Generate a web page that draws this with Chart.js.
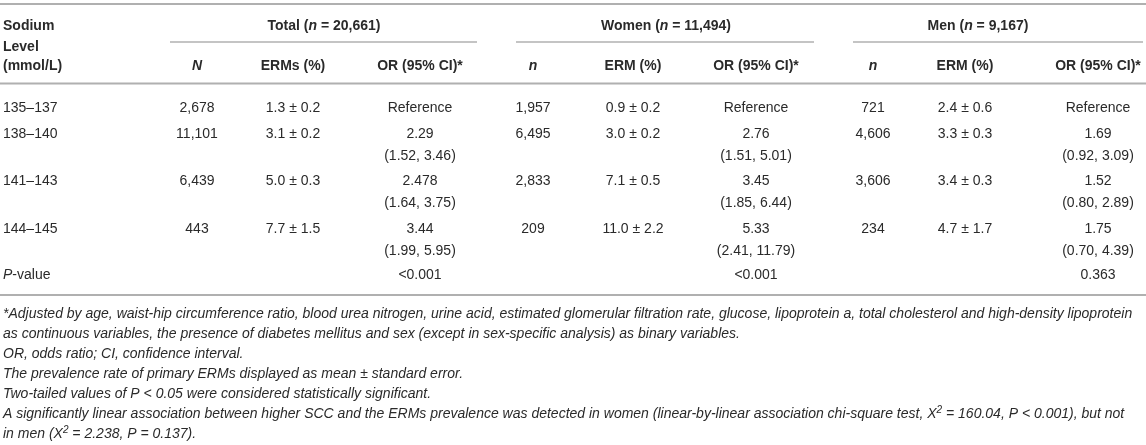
<!DOCTYPE html>
<html>
<head>
<meta charset="utf-8">
<script src="https://cdn.jsdelivr.net/npm/chart.js@4/dist/chart.umd.min.js"></script>
<style>
  html, body { margin: 0; padding: 0; background: #ffffff; }
  #wrap { width: 1146px; height: 445px; position: relative; }
  canvas { display: block; }
</style>
</head>
<body>
<div id="wrap"><canvas id="c" width="1146" height="445"></canvas></div>
<script>
// ---------- DATA ----------
const sodiumLevels = ['135–137', '138–140', '141–143', '144–145'];

const totalN      = [2678, 11101, 6439, 443];
const totalERM    = [1.3, 3.1, 5.0, 7.7];
const totalSE     = [0.2, 0.2, 0.3, 1.5];
const totalOR     = [null, 2.29, 2.478, 3.44];
const totalCILow  = [null, 1.52, 1.64, 1.99];
const totalCIHigh = [null, 3.46, 3.75, 5.95];

const womenN      = [1957, 6495, 2833, 209];
const womenERM    = [0.9, 3.0, 7.1, 11.0];
const womenSE     = [0.2, 0.2, 0.5, 2.2];
const womenOR     = [null, 2.76, 3.45, 5.33];
const womenCILow  = [null, 1.51, 1.85, 2.41];
const womenCIHigh = [null, 5.01, 6.44, 11.79];

const menN        = [721, 4606, 3606, 234];
const menERM      = [2.4, 3.3, 3.4, 4.7];
const menSE       = [0.6, 0.3, 0.3, 1.7];
const menOR       = [null, 1.69, 1.52, 1.75];
const menCILow    = [null, 0.92, 0.80, 0.70];
const menCIHigh   = [null, 3.09, 2.89, 4.39];

const groupNames  = ['Total', 'Women', 'Men'];
const groupSizes  = [20661, 11494, 9167];
const pValues     = ['<0.001', '<0.001', '0.363'];
const colHeaders  = [['N', 'ERMs (%)', 'OR (95% CI)*'], ['n', 'ERM (%)', 'OR (95% CI)*'], ['n', 'ERM (%)', 'OR (95% CI)*']];
const rowHeader   = ['Sodium', 'Level', '(mmol/L)'];
const pLabel      = 'P-value';

const footnotes = [
  [['*Adjusted by age, waist-hip circumference ratio, blood urea nitrogen, urine acid, estimated glomerular filtration rate, glucose, lipoprotein a, total cholesterol and high-density lipoprotein', 'i']],
  [['as continuous variables, the presence of diabetes mellitus and sex (except in sex-specific analysis) as binary variables.', 'i']],
  [['OR, odds ratio; CI, confidence interval.', 'i']],
  [['The prevalence rate of primary ERMs displayed as mean ± standard error.', 'i']],
  [['Two-tailed values of P < 0.05 were considered statistically significant.', 'i']],
  [['A significantly linear association between higher SCC and the ERMs prevalence was detected in women (linear-by-linear association chi-square test, X', 'i'], ['2', 'sup'], [' = 160.04, P < 0.001), but not', 'i']],
  [['in men (X', 'i'], ['2', 'sup'], [' = 2.238, P = 0.137).', 'i']]
];

// ---------- LAYOUT / STYLE (not data) ----------
const FONT = '"Liberation Sans", Arial, Helvetica, sans-serif';
const SIZE = 14;
const NOTE_SIZE = 14;
const TEXT = '#2a2a2a';
const RULE = '#b0b0b0';
const layout = {
  labelX: 3,
  cols: [[197, 293, 420], [533, 633, 756], [873, 965, 1098]],
  groupCenters: [324, 666, 978],
  subRules: [[170, 477], [516, 814], [853, 1143]],
  rowHeaderY: [30, 50.5, 69.5],
  groupY: 30,
  colHeaderY: 69.5,
  dataY: [111.5, 137.5, 185, 233],
  ciDY: 22,
  pY: 279,
  rules: { top: 4, sub: 42, head: 83.5, bottom: 295 },
  noteY0: 318,
  noteDY: 20
};

function fontFor(style, size) {
  const it = style.includes('i') ? 'italic ' : '';
  const bd = style.includes('b') ? 'bold ' : '';
  return it + bd + size + 'px ' + FONT;
}

function drawRich(ctx, segs, x, y, align, size) {
  const parts = segs.map(([t, s]) => {
    const isSup = s === 'sup';
    const f = isSup ? fontFor('i', Math.round(size * 0.7)) : fontFor(s, size);
    ctx.font = f;
    return { t, f, w: ctx.measureText(t).width, dy: isSup ? -size * 0.38 : 0 };
  });
  const total = parts.reduce((a, p) => a + p.w, 0);
  let cx = align === 'center' ? x - total / 2 : (align === 'right' ? x - total : x);
  ctx.textAlign = 'left';
  ctx.textBaseline = 'alphabetic';
  parts.forEach(p => { ctx.font = p.f; ctx.fillText(p.t, cx, y + p.dy); cx += p.w; });
}

const fmtInt = v => v.toLocaleString('en-US');
const fmtERM = (m, s) => m.toFixed(1) + ' ± ' + s.toFixed(1);
const fmtCI = (l, h) => '(' + l.toFixed(2) + ', ' + h.toFixed(2) + ')';

const groups = [
  { n: totalN, erm: totalERM, se: totalSE, or: totalOR, lo: totalCILow, hi: totalCIHigh },
  { n: womenN, erm: womenERM, se: womenSE, or: womenOR, lo: womenCILow, hi: womenCIHigh },
  { n: menN,   erm: menERM,   se: menSE,   or: menOR,   lo: menCILow,   hi: menCIHigh }
];

const tablePlugin = {
  id: 'tablePlugin',
  afterDraw(chart) {
    const ctx = chart.ctx;
    const X = v => chart.scales.x.getPixelForValue(v);
    const Y = v => chart.scales.y.getPixelForValue(v);
    ctx.save();

    // rules
    ctx.strokeStyle = RULE;
    ctx.lineWidth = 1.8;
    const hline = (x0, x1, y) => { ctx.beginPath(); ctx.moveTo(X(x0), Y(y)); ctx.lineTo(X(x1), Y(y)); ctx.stroke(); };
    hline(0, 1146, layout.rules.top);
    hline(0, 1146, layout.rules.head);
    hline(0, 1146, layout.rules.bottom);
    ctx.lineWidth = 1.4;
    layout.subRules.forEach(([a, b]) => hline(a, b, layout.rules.sub));

    ctx.fillStyle = TEXT;
    // row header
    rowHeader.forEach((t, i) => drawRich(ctx, [[t, 'b']], X(layout.labelX), Y(layout.rowHeaderY[i]), 'left', SIZE));
    // group headers
    groupNames.forEach((g, gi) => {
      drawRich(ctx, [[g + ' (', 'b'], ['n', 'bi'], [' = ' + fmtInt(groupSizes[gi]) + ')', 'b']],
        X(layout.groupCenters[gi]), Y(layout.groupY), 'center', SIZE);
      colHeaders[gi].forEach((h, ci) => {
        const st = (h === 'N' || h === 'n') ? 'bi' : 'b';
        drawRich(ctx, [[h, st]], X(layout.cols[gi][ci]), Y(layout.colHeaderY), 'center', SIZE);
      });
    });

    // data rows
    sodiumLevels.forEach((lvl, r) => {
      const y = layout.dataY[r];
      drawRich(ctx, [[lvl, 'n']], X(layout.labelX), Y(y), 'left', SIZE);
      groups.forEach((g, gi) => {
        const c = layout.cols[gi];
        drawRich(ctx, [[fmtInt(g.n[r]), 'n']], X(c[0]), Y(y), 'center', SIZE);
        drawRich(ctx, [[fmtERM(g.erm[r], g.se[r]), 'n']], X(c[1]), Y(y), 'center', SIZE);
        if (g.or[r] === null) {
          drawRich(ctx, [['Reference', 'n']], X(c[2]), Y(y), 'center', SIZE);
        } else {
          drawRich(ctx, [[String(g.or[r]), 'n']], X(c[2]), Y(y), 'center', SIZE);
          drawRich(ctx, [[fmtCI(g.lo[r], g.hi[r]), 'n']], X(c[2]), Y(y + layout.ciDY), 'center', SIZE);
        }
      });
    });

    // p-value row
    drawRich(ctx, [[pLabel.charAt(0), 'i'], [pLabel.slice(1), 'n']], X(layout.labelX), Y(layout.pY), 'left', SIZE);
    pValues.forEach((p, gi) => drawRich(ctx, [[p, 'n']], X(layout.cols[gi][2]), Y(layout.pY), 'center', SIZE));

    // footnotes
    footnotes.forEach((segs, i) => drawRich(ctx, segs, X(layout.labelX), Y(layout.noteY0 + i * layout.noteDY), 'left', NOTE_SIZE));

    ctx.restore();
  }
};

new Chart(document.getElementById('c').getContext('2d'), {
  type: 'scatter',
  data: { datasets: [] },
  options: {
    responsive: false,
    animation: false,
    layout: { padding: 0 },
    plugins: { legend: { display: false }, tooltip: { enabled: false }, title: { display: false } },
    scales: {
      x: { type: 'linear', min: 0, max: 1146, display: false },
      y: { type: 'linear', min: 0, max: 445, reverse: true, display: false }
    }
  },
  plugins: [tablePlugin]
});
</script>
</body>
</html>
